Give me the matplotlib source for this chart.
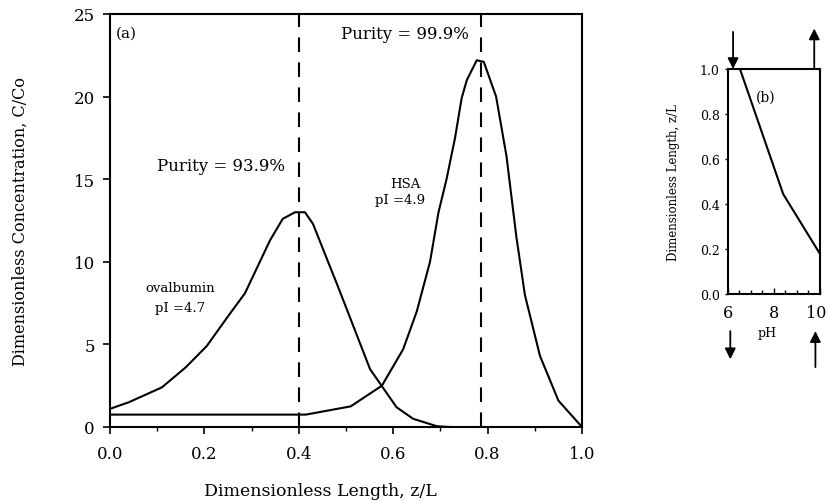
import matplotlib
matplotlib.use("Agg")
import matplotlib.pyplot as plt
import matplotlib.transforms as mtransforms
from matplotlib.ticker import MultipleLocator

plt.rcParams['font.family'] = ['DejaVu Serif']

# ---- data ----
ova_x = [0.0, 0.04, 0.11, 0.16, 0.205, 0.25, 0.286, 0.339, 0.366, 0.392, 0.413, 0.43, 0.462, 0.483, 0.551, 0.607, 0.642, 0.692, 0.72]
ova_y = [1.1, 1.5, 2.4, 3.6, 4.9, 6.7, 8.1, 11.3, 12.6, 13.0, 13.0, 12.3, 10.0, 8.5, 3.5, 1.2, 0.5, 0.05, 0.0]

hsa_x = [0.0, 0.415, 0.51, 0.576, 0.621, 0.65, 0.678, 0.696, 0.713, 0.731, 0.745, 0.756, 0.777, 0.792, 0.818, 0.84, 0.861, 0.879, 0.911, 0.95, 1.0]
hsa_y = [0.75, 0.75, 1.25, 2.5, 4.7, 7.0, 10.0, 13.0, 15.0, 17.5, 19.9, 21.0, 22.2, 22.1, 20.0, 16.4, 11.5, 8.0, 4.3, 1.6, 0.0]

cut_x = [0.40, 0.787]
purity_labels = ["Purity = 93.9%", "Purity = 99.9%"]

ph_x = [6.52, 7.4, 8.4, 10.0]
ph_z = [1.0, 0.74, 0.444, 0.178]

x_ticks = [0.0, 0.2, 0.4, 0.6, 0.8, 1.0]
y_ticks = [0, 5, 10, 15, 20, 25]
ph_ticks = [6, 8, 10]
z_ticks = [0.0, 0.2, 0.4, 0.6, 0.8, 1.0]

fig = plt.figure(figsize=(8.28, 5.02), dpi=100)

# ---- main panel (a) ----
ax = fig.add_axes([110/828, 1-428/502, 472/828, 413/502])
ax.plot(ova_x, ova_y, color='black', lw=1.5)
ax.plot(hsa_x, hsa_y, color='black', lw=1.5)
for cx in cut_x:
    ax.plot([cx, cx], [0, 25], color='black', lw=1.5, dashes=(7, 5))
ax.set_xlim(0, 1.0)
ax.set_ylim(0, 25)
ax.set_xticks(x_ticks)
ax.set_xticklabels([f"{v:.1f}" for v in x_ticks])
ax.set_yticks(y_ticks)
ax.xaxis.set_minor_locator(MultipleLocator(0.1))
ax.tick_params(axis='both', which='major', direction='out', length=5, width=1.2, labelsize=12)
ax.tick_params(axis='x', which='minor', direction='out', length=3, width=1.0)
ax.tick_params(axis='x', pad=8)
ax.tick_params(axis='y', pad=6)
for s in ax.spines.values():
    s.set_linewidth(1.5)
ax.set_xlabel("Dimensionless Length, z/L", fontsize=12.5)
ax.xaxis.set_label_coords(0.445, -0.132)
ax.set_ylabel("Dimensionless Concentration, C/Co", fontsize=11.5, labelpad=32)

ax.text(0.012, 23.9, "(a)", fontsize=11, ha='left', va='center')
ax.text(0.1, 15.8, purity_labels[0], fontsize=12, ha='left', va='center')
ax.text(0.49, 23.8, purity_labels[1], fontsize=12, ha='left', va='center')
ax.text(0.625, 14.75, "HSA", fontsize=9.5, ha='center', va='center')
ax.text(0.615, 13.75, "pI =4.9", fontsize=9.5, ha='center', va='center')
ax.text(0.148, 8.45, "ovalbumin", fontsize=9.5, ha='center', va='center')
ax.text(0.148, 7.25, "pI =4.7", fontsize=9.5, ha='center', va='center')

# ---- inset panel (b) ----
ax2 = fig.add_axes([728/828, 1-295/502, 92/828, 225/502])
ax2.plot(ph_x, ph_z, color='black', lw=1.5)
ax2.set_xlim(6, 10)
ax2.set_ylim(0, 1.0)
ax2.set_xticks(ph_ticks)
ax2.set_yticks(z_ticks)
ax2.set_yticklabels([f"{v:.1f}" for v in z_ticks])
ax2.xaxis.set_minor_locator(MultipleLocator(0.5))
ax2.tick_params(axis='x', which='major', direction='in', length=4, width=1.0, labelsize=11.5, pad=7)
ax2.tick_params(axis='x', which='minor', direction='in', length=3, width=1.0)
ax2.tick_params(axis='y', which='major', direction='out', length=2, width=1.0, labelsize=9, pad=4)
for s in ax2.spines.values():
    s.set_linewidth(1.5)
ax2.set_ylabel("Dimensionless Length, z/L", fontsize=8.5, labelpad=14)
ax2.text(7.2, 0.875, "(b)", fontsize=10, ha='left', va='center')
ax2.text(7.7, -0.17, "pH", fontsize=9, ha='center', va='center')

fig.canvas.draw()
last = ax2.get_xticklabels()[-1]
last.set_transform(last.get_transform() + mtransforms.ScaledTranslation(-4/100, 0, fig.dpi_scale_trans))

arrow_kw = dict(arrowstyle='-|>', color='black', lw=1.3, mutation_scale=16, shrinkA=0, shrinkB=0)
ax2.annotate("", xy=(6.22, 1.0), xytext=(6.22, 1.165), arrowprops=arrow_kw, annotation_clip=False)
ax2.annotate("", xy=(9.75, 1.18), xytext=(9.75, 1.0), arrowprops=arrow_kw, annotation_clip=False)
ax2.annotate("", xy=(6.1, -0.29), xytext=(6.1, -0.165), arrowprops=arrow_kw, annotation_clip=False)
ax2.annotate("", xy=(9.8, -0.165), xytext=(9.8, -0.325), arrowprops=arrow_kw, annotation_clip=False)

fig.savefig("out.png", dpi=100)
